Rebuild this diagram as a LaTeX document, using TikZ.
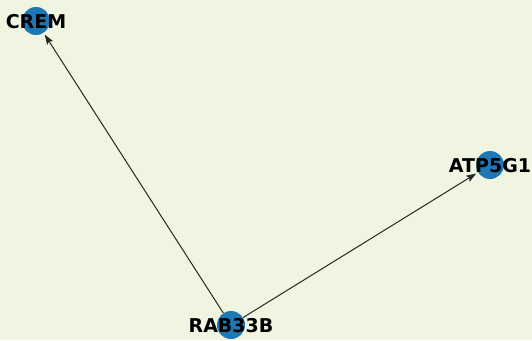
\documentclass[tikz,border=0pt]{standalone}
\usepackage{fontspec}
\setmainfont{DejaVu Sans}
\usetikzlibrary{arrows.meta}
\definecolor{bg}{RGB}{240,245,225}
\definecolor{nodeblue}{HTML}{1F77B4}
\tikzset{
  vertex/.style={circle, fill=nodeblue, draw=none, minimum size=28pt, inner sep=0pt},
  vlabel/.style={font=\fontsize{19}{19}\selectfont\bfseries, text=black, inner sep=0pt},
  edge/.style={draw=black!85, line width=1pt, shorten >=2pt, -{Stealth[length=10pt,width=7pt,inset=2pt]}}
}
\begin{document}
\begin{tikzpicture}[x=1pt,y=-1pt]
\fill[bg] (0,0) rectangle (532,340);
\useasboundingbox (0,0) rectangle (532,340);
\node[vertex] (crem) at (36,21) {};
\node[vertex] (atp) at (490,165) {};
\node[vertex] (rab) at (231,325) {};
\draw[edge] (rab) -- (crem);
\draw[edge] (rab) -- (atp);
\node[vlabel] (cremL) at (36,22) {CREM};
\node[vlabel] (atpL) at (490,166) {ATP5G1};
\node[vlabel] (rabL) at (231,326) {RAB33B};
\end{tikzpicture}
\end{document}
